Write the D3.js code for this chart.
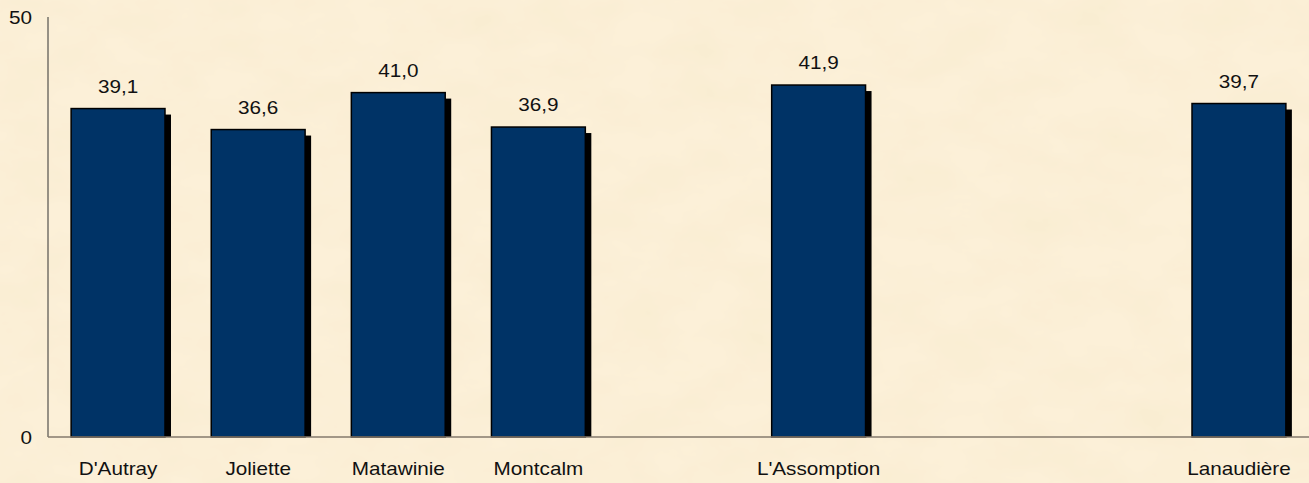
<!DOCTYPE html>
<html>
<head>
<meta charset="utf-8">
<script src="https://cdn.jsdelivr.net/npm/d3@7"></script>
<style>
  body { margin: 0; background: #fcf0d8; }
  svg { display: block; }
  text { font-family: "Liberation Sans", Arial, sans-serif; font-size: 18px; fill: #111; }
</style>
</head>
<body>
<div id="chart"></div>
<script>
// donnees du graphique
const categories = ["D'Autray", "Joliette", "Matawinie", "Montcalm", "", "L'Assomption", "", "", "Lanaudière"];
const values = [39.1, 36.6, 41.0, 36.9, null, 41.9, null, null, 39.7];
const yTicks = [0, 50];

const width = 1309, height = 483;
const margin = {top: 17, right: 0, bottom: 46, left: 48};
const stretch = 1.15; // le texte de l'original est etire horizontalement

const fr = d3.formatLocale({decimal: ",", thousands: " ", grouping: [3], currency: ["", " $"]});
const fmt = fr.format(".1f");

const svg = d3.select("#chart").append("svg")
  .attr("width", width)
  .attr("height", height);

// fond parchemin
const defs = svg.append("defs");
const filt = defs.append("filter").attr("id", "paper").attr("x", 0).attr("y", 0).attr("width", "100%").attr("height", "100%");
filt.append("feTurbulence").attr("type", "fractalNoise").attr("baseFrequency", "0.015 0.025").attr("numOctaves", 4).attr("seed", 7).attr("result", "noise");
filt.append("feColorMatrix").attr("in", "noise").attr("type", "matrix")
  .attr("values", "0 0 0 0 0.92  0 0 0 0 0.82  0 0 0 0 0.6  0.9 0 0 0 -0.3")
  .attr("result", "tint");
filt.append("feComposite").attr("in", "tint").attr("in2", "SourceGraphic").attr("operator", "over");

svg.append("rect").attr("width", width).attr("height", height).attr("fill", "#fcf0d8");
svg.append("rect").attr("width", width).attr("height", height).attr("fill", "#fcf0d8").attr("filter", "url(#paper)");

const x = d3.scaleBand()
  .domain(d3.range(categories.length))
  .range([margin.left, width - margin.right])
  .paddingInner(0.33)
  .paddingOuter(0.165);

const y = d3.scaleLinear()
  .domain([0, 50])
  .range([height - margin.bottom, margin.top]);

const data = categories.map((c, i) => ({i: i, name: c, value: values[i]}));
const bars = data.filter(d => d.value != null);

// ombres
svg.append("g").selectAll("rect")
  .data(bars)
  .enter().append("rect")
  .attr("x", d => x(d.i) + 6)
  .attr("y", d => y(d.value) + 6)
  .attr("width", x.bandwidth())
  .attr("height", d => y(0) - y(d.value) - 6)
  .attr("fill", "#000");

// barres
svg.append("g").selectAll("rect")
  .data(bars)
  .enter().append("rect")
  .attr("x", d => x(d.i))
  .attr("y", d => y(d.value))
  .attr("width", x.bandwidth())
  .attr("height", d => y(0) - y(d.value))
  .attr("fill", "#003366")
  .attr("stroke", "#000")
  .attr("stroke-width", 1.5);

// axes
svg.append("line")
  .attr("x1", margin.left).attr("x2", margin.left)
  .attr("y1", y(50)).attr("y2", y(0))
  .attr("stroke", "#333").attr("stroke-width", 1);
svg.append("line")
  .attr("x1", margin.left).attr("x2", width)
  .attr("y1", y(0)).attr("y2", y(0))
  .attr("stroke", "#857a6c").attr("stroke-width", 1.3);

// etiquettes axe Y
svg.append("g").selectAll("text")
  .data(yTicks)
  .enter().append("text")
  .attr("transform", d => `translate(32, ${y(d) + 6.5}) scale(${stretch},1)`)
  .attr("text-anchor", "end")
  .text(d => d);

// etiquettes categories
svg.append("g").selectAll("text")
  .data(data.filter(d => d.name !== ""))
  .enter().append("text")
  .attr("transform", d => `translate(${x(d.i) + x.bandwidth() / 2}, ${y(0) + 38}) scale(${stretch},1)`)
  .attr("text-anchor", "middle")
  .text(d => d.name);

// valeurs
svg.append("g").selectAll("text")
  .data(bars)
  .enter().append("text")
  .attr("transform", d => `translate(${x(d.i) + x.bandwidth() / 2}, ${y(d.value) - 16}) scale(${stretch},1)`)
  .attr("text-anchor", "middle")
  .text(d => fmt(d.value));
</script>
</body>
</html>
